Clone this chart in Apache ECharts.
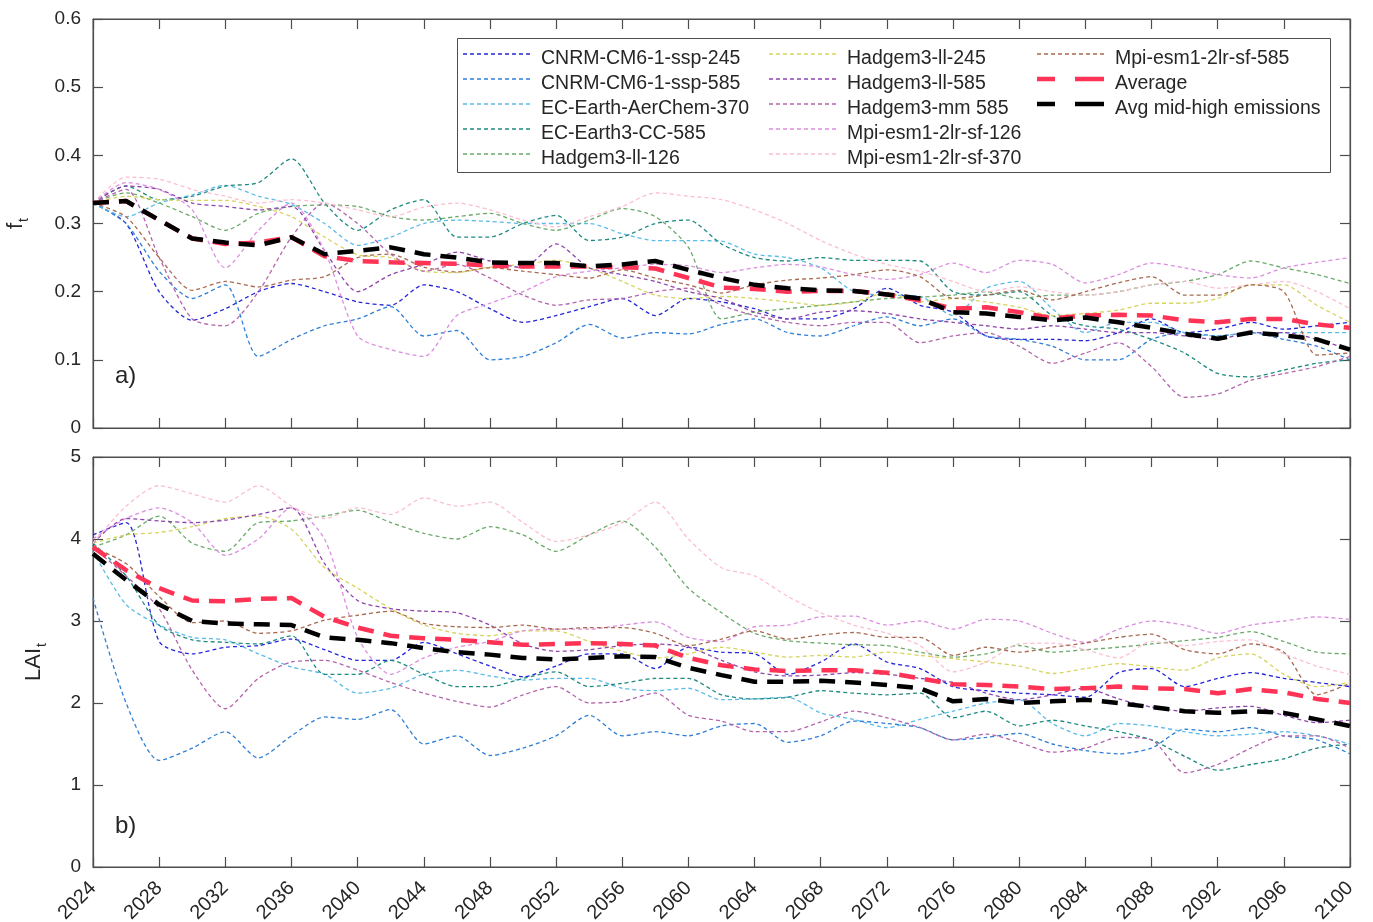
<!DOCTYPE html>
<html>
<head>
<meta charset="utf-8">
<script src="https://cdn.jsdelivr.net/npm/echarts@6/dist/echarts.min.js"></script>
<style>html,body{margin:0;padding:0;background:#fff;overflow:hidden}#c{width:1373px;height:922px}</style>
</head>
<body>
<div id="c"></div>
<script>
const years = [2024,2026,2028,2030,2032,2034,2036,2038,2040,2042,2044,2046,2048,2050,2052,2054,2056,2058,2060,2062,2064,2066,2068,2070,2072,2074,2076,2078,2080,2082,2084,2086,2088,2090,2092,2094,2096,2098,2100];
const xTicks = [2024,2028,2032,2036,2040,2044,2048,2052,2056,2060,2064,2068,2072,2076,2080,2084,2088,2092,2096,2100];
const ftTicks = [0,0.1,0.2,0.3,0.4,0.5,0.6];
const laiTicks = [0,1,2,3,4,5];

const names = ['CNRM-CM6-1-ssp-245','CNRM-CM6-1-ssp-585','EC-Earth-AerChem-370','EC-Earth3-CC-585','Hadgem3-ll-126','Hadgem3-ll-245','Hadgem3-ll-585','Hadgem3-mm 585','Mpi-esm1-2lr-sf-126','Mpi-esm1-2lr-sf-370','Mpi-esm1-2lr-sf-585','Average','Avg mid-high emissions'];
const colors = ['#2626d8','#2f7fd6','#5bbbe8','#1f8a80','#6aaa6a','#d8d460','#8e44ad','#b464ac','#dc8ee0','#fbbfd0','#a86a50','#ff3355','#000000'];

// ---- panel a) f_t ----
const ft_cnrm245 = [0.33,0.30,0.20,0.158,0.175,0.20,0.212,0.20,0.185,0.18,0.21,0.20,0.175,0.155,0.165,0.178,0.19,0.165,0.19,0.185,0.175,0.16,0.16,0.175,0.205,0.18,0.17,0.135,0.13,0.13,0.128,0.14,0.16,0.14,0.145,0.155,0.145,0.15,0.155];
const ft_cnrm585 = [0.33,0.30,0.23,0.19,0.21,0.105,0.13,0.15,0.16,0.178,0.135,0.143,0.10,0.105,0.125,0.152,0.132,0.14,0.138,0.152,0.16,0.14,0.135,0.15,0.163,0.15,0.16,0.135,0.13,0.12,0.10,0.10,0.13,0.14,0.135,0.14,0.13,0.12,0.10];
const ft_aerchem370 = [0.33,0.31,0.33,0.342,0.356,0.34,0.328,0.30,0.268,0.28,0.30,0.305,0.303,0.30,0.30,0.30,0.285,0.275,0.275,0.274,0.255,0.25,0.235,0.20,0.195,0.193,0.165,0.205,0.215,0.175,0.14,0.155,0.155,0.14,0.135,0.14,0.14,0.14,0.14];
const ft_ecearth585 = [0.33,0.355,0.335,0.34,0.355,0.36,0.395,0.33,0.29,0.32,0.335,0.28,0.28,0.30,0.312,0.275,0.28,0.30,0.305,0.27,0.25,0.245,0.25,0.246,0.246,0.245,0.20,0.195,0.20,0.165,0.15,0.145,0.13,0.11,0.08,0.075,0.085,0.095,0.10];
const ft_hll126 = [0.33,0.345,0.33,0.31,0.29,0.315,0.325,0.327,0.325,0.31,0.305,0.31,0.315,0.30,0.29,0.305,0.322,0.31,0.265,0.16,0.17,0.175,0.18,0.185,0.19,0.192,0.195,0.20,0.19,0.195,0.195,0.20,0.21,0.215,0.225,0.245,0.235,0.225,0.212];
const ft_hll245 = [0.33,0.34,0.335,0.334,0.334,0.325,0.31,0.28,0.254,0.25,0.23,0.228,0.236,0.24,0.246,0.235,0.215,0.195,0.19,0.193,0.19,0.185,0.18,0.185,0.198,0.185,0.19,0.185,0.177,0.165,0.168,0.173,0.183,0.183,0.19,0.21,0.21,0.18,0.155];
const ft_hll585 = [0.33,0.355,0.35,0.33,0.325,0.32,0.325,0.26,0.20,0.225,0.24,0.258,0.245,0.235,0.27,0.235,0.225,0.215,0.20,0.19,0.17,0.16,0.17,0.172,0.168,0.16,0.155,0.15,0.145,0.15,0.145,0.14,0.14,0.135,0.13,0.14,0.14,0.13,0.115];
const ft_hmm585 = [0.33,0.35,0.25,0.16,0.15,0.20,0.28,0.33,0.30,0.255,0.23,0.24,0.22,0.195,0.18,0.188,0.19,0.20,0.205,0.18,0.165,0.155,0.15,0.155,0.155,0.125,0.135,0.14,0.12,0.095,0.11,0.125,0.09,0.045,0.05,0.07,0.08,0.09,0.105];
const ft_mpi126 = [0.33,0.36,0.35,0.32,0.235,0.29,0.33,0.26,0.135,0.115,0.105,0.165,0.183,0.20,0.222,0.23,0.235,0.24,0.238,0.228,0.235,0.24,0.236,0.225,0.218,0.225,0.242,0.228,0.246,0.24,0.213,0.225,0.242,0.235,0.225,0.22,0.235,0.243,0.25];
const ft_mpi370 = [0.33,0.368,0.365,0.35,0.34,0.33,0.335,0.33,0.32,0.31,0.324,0.33,0.32,0.305,0.295,0.31,0.325,0.345,0.34,0.335,0.32,0.30,0.275,0.255,0.24,0.23,0.215,0.20,0.207,0.20,0.195,0.20,0.21,0.215,0.205,0.21,0.215,0.20,0.175];
const ft_mpi585 = [0.33,0.31,0.25,0.202,0.215,0.207,0.217,0.222,0.25,0.255,0.236,0.229,0.235,0.23,0.225,0.22,0.232,0.22,0.21,0.198,0.21,0.217,0.22,0.225,0.232,0.222,0.19,0.195,0.202,0.188,0.20,0.213,0.222,0.195,0.195,0.21,0.20,0.107,0.11];
const ft_avg = [0.33,0.333,0.305,0.278,0.27,0.272,0.28,0.252,0.245,0.243,0.242,0.241,0.238,0.237,0.237,0.237,0.236,0.234,0.22,0.206,0.204,0.20,0.201,0.201,0.196,0.187,0.175,0.177,0.17,0.161,0.165,0.166,0.165,0.158,0.155,0.16,0.16,0.152,0.147];
const ft_avgHigh = [0.33,0.333,0.305,0.278,0.272,0.268,0.28,0.255,0.26,0.265,0.255,0.25,0.243,0.242,0.242,0.237,0.24,0.245,0.232,0.22,0.21,0.205,0.202,0.201,0.196,0.19,0.17,0.168,0.163,0.158,0.162,0.155,0.147,0.138,0.131,0.14,0.136,0.13,0.115];

// ---- panel b) LAI_t ----
const lai_cnrm245 = [4.05,4.2,2.75,2.6,2.68,2.7,2.78,2.65,2.52,2.52,2.74,2.6,2.45,2.32,2.45,2.6,2.6,2.42,2.68,2.62,2.6,2.35,2.5,2.72,2.5,2.42,2.2,2.15,2.12,2.1,2.07,2.37,2.42,2.2,2.3,2.37,2.3,2.25,2.2];
const lai_cnrm585 = [3.28,2.0,1.3,1.45,1.65,1.33,1.6,1.83,1.8,1.92,1.5,1.6,1.36,1.45,1.6,1.85,1.6,1.65,1.6,1.72,1.75,1.52,1.6,1.78,1.75,1.7,1.55,1.58,1.63,1.5,1.42,1.38,1.45,1.68,1.65,1.7,1.6,1.55,1.38];
const lai_aerchem370 = [3.85,3.2,2.95,2.8,2.77,2.6,2.44,2.35,2.12,2.18,2.35,2.4,2.33,2.28,2.3,2.3,2.18,2.15,2.18,2.04,2.05,2.07,1.88,1.8,1.7,1.8,1.9,2.0,2.04,1.75,1.6,1.75,1.72,1.65,1.6,1.62,1.65,1.6,1.5];
const lai_ecearth585 = [3.95,3.55,2.95,2.77,2.74,2.72,2.82,2.35,2.35,2.52,2.35,2.2,2.2,2.3,2.38,2.2,2.24,2.3,2.3,2.1,2.05,2.07,2.15,2.12,2.1,2.12,1.82,1.9,1.72,1.79,1.72,1.65,1.55,1.35,1.18,1.25,1.32,1.45,1.5];
const lai_hll126 = [3.9,4.05,4.28,3.95,3.85,4.2,4.22,4.28,4.35,4.2,4.07,4.0,4.15,4.05,3.85,4.05,4.22,3.9,3.4,3.1,2.85,2.76,2.73,2.71,2.7,2.62,2.56,2.6,2.7,2.62,2.65,2.68,2.72,2.76,2.8,2.87,2.75,2.62,2.6];
const lai_hll245 = [3.95,4.05,4.08,4.15,4.25,4.28,4.12,3.65,3.4,3.15,2.95,2.85,2.82,2.88,2.88,2.75,2.63,2.55,2.6,2.68,2.62,2.56,2.58,2.56,2.62,2.58,2.54,2.5,2.45,2.36,2.42,2.48,2.44,2.4,2.55,2.6,2.35,2.2,2.25];
const lai_hll585 = [3.95,4.25,4.22,4.2,4.23,4.3,4.38,3.7,3.25,3.15,3.12,3.1,2.95,2.72,2.63,2.65,2.7,2.72,2.68,2.52,2.38,2.33,2.34,2.37,2.35,2.3,2.25,2.12,2.04,2.1,2.18,2.05,1.95,1.9,1.94,1.96,1.85,1.76,1.79];
const lai_hmm585 = [3.9,3.55,3.15,2.4,1.93,2.3,2.5,2.52,2.4,2.25,2.12,2.02,1.95,2.1,2.2,2.0,2.02,2.12,1.85,1.78,1.65,1.65,1.77,1.9,1.82,1.7,1.55,1.62,1.52,1.4,1.45,1.58,1.55,1.15,1.25,1.45,1.6,1.6,1.45];
const lai_mpi126 = [4.0,4.25,4.38,4.2,3.8,4.0,4.38,4.0,2.8,2.35,2.55,2.68,2.75,2.88,2.9,2.9,2.95,2.99,2.8,2.75,2.93,2.95,3.05,3.06,2.95,3.0,2.9,3.02,3.0,2.85,2.74,2.9,3.0,2.95,2.85,2.95,3.0,3.05,3.02];
const lai_mpi370 = [3.95,4.4,4.65,4.55,4.45,4.65,4.4,4.25,4.38,4.3,4.5,4.4,4.45,4.2,3.97,4.05,4.2,4.45,4.0,3.65,3.55,3.3,3.1,2.95,2.85,2.7,2.38,2.5,2.72,2.73,2.65,2.55,2.75,2.7,2.75,2.77,2.6,2.45,2.35];
const lai_mpi585 = [3.9,3.7,3.3,2.98,3.0,2.85,2.88,3.01,3.07,3.12,2.97,2.93,2.92,2.95,2.9,2.92,2.92,2.85,2.7,2.78,2.88,2.78,2.83,2.86,2.8,2.8,2.58,2.68,2.62,2.68,2.73,2.8,2.84,2.65,2.6,2.72,2.62,2.1,2.24];
const lai_avg = [3.9,3.62,3.4,3.25,3.24,3.27,3.28,3.05,2.92,2.82,2.79,2.77,2.74,2.71,2.72,2.73,2.72,2.7,2.55,2.46,2.41,2.39,2.4,2.4,2.37,2.3,2.23,2.22,2.2,2.17,2.18,2.2,2.18,2.17,2.12,2.17,2.13,2.05,2.0];
const lai_avgHigh = [3.82,3.5,3.2,3.0,2.97,2.96,2.95,2.8,2.77,2.73,2.67,2.62,2.59,2.55,2.53,2.55,2.57,2.56,2.43,2.34,2.26,2.26,2.27,2.25,2.22,2.18,2.02,2.05,2.0,2.02,2.04,2.0,1.95,1.9,1.88,1.9,1.88,1.8,1.72];

const ftSeries = [ft_cnrm245,ft_cnrm585,ft_aerchem370,ft_ecearth585,ft_hll126,ft_hll245,ft_hll585,ft_hmm585,ft_mpi126,ft_mpi370,ft_mpi585,ft_avg,ft_avgHigh];
const laiSeries = [lai_cnrm245,lai_cnrm585,lai_aerchem370,lai_ecearth585,lai_hll126,lai_hll245,lai_hll585,lai_hmm585,lai_mpi126,lai_mpi370,lai_mpi585,lai_avg,lai_avgHigh];

const FONT = '"Liberation Sans", Arial, Helvetica, sans-serif';
const TXT = '#262626';
const AX = '#4d4d4d';

function pairs(vals){ return years.map((y,i)=>[y, vals[i]]); }

function mkSeries(vals, i, panel){
  const isAvg = i >= 11;
  return {
    name: names[i], type: 'line',
    xAxisIndex: panel*2, yAxisIndex: panel*2,
    data: pairs(vals),
    showSymbol: false, symbol: 'none',
    smooth: isAvg ? false : 0.25,
    z: isAvg ? 3 + (i-10) : 2,
    lineStyle: isAvg ? {color: colors[i], width: 4.5, type: [16, 10]} : {color: colors[i], width: 1.3, type: [4, 3]},
    itemStyle: {color: colors[i]},
    emphasis: {disabled: true},
    animation: false
  };
}

const series = [];
ftSeries.forEach((v,i)=>series.push(mkSeries(v,i,0)));
laiSeries.forEach((v,i)=>series.push(mkSeries(v,i,1)));

const grids = [
  {left: 93, top: 19, width: 1257, height: 409, show: true, borderColor: AX, borderWidth: 1, containLabel: false, outerBoundsMode: 'none'},
  {left: 93, top: 457, width: 1257, height: 410, show: true, borderColor: AX, borderWidth: 1, containLabel: false, outerBoundsMode: 'none'}
];

function xAx(grid, pos, labels){
  return {
    type: 'value', gridIndex: grid, position: pos, min: xTicks[0], max: xTicks[xTicks.length-1], interval: 4,
    axisLine: {show: true, onZero: false, lineStyle: {color: AX, width: 1.2}},
    axisTick: {show: true, inside: true, length: 10, lineStyle: {color: AX, width: 1.2}},
    axisLabel: {show: labels, rotate: 45, margin: 18, fontSize: 20, fontFamily: FONT, color: TXT, formatter: v => String(v)},
    splitLine: {show: false}
  };
}
function yAx(grid, pos, ticks, interval, labels, name, nameGap, fmt){
  const o = {
    type: 'value', gridIndex: grid, position: pos, min: ticks[0], max: ticks[ticks.length-1], interval: interval,
    axisLine: {show: true, onZero: false, lineStyle: {color: AX, width: 1.2}},
    axisTick: {show: true, inside: true, length: 10, lineStyle: {color: AX, width: 1.2}},
    axisLabel: {show: labels, margin: 12, fontSize: 19, fontFamily: FONT, color: TXT, formatter: fmt},
    splitLine: {show: false}
  };
  if (name) {
    o.name = name; o.nameLocation = 'middle'; o.nameGap = nameGap; o.nameRotate = 90;
    o.nameTextStyle = {fontFamily: FONT, color: TXT, rich: {
      m: {fontSize: 22, fontFamily: FONT, color: TXT, lineHeight: 30, verticalAlign: 'middle'},
      s: {fontSize: 14, fontFamily: FONT, color: TXT, lineHeight: 30, verticalAlign: 'bottom', padding: [0,0,0,1]}
    }};
  }
  return o;
}

const legendBase = {
  orient: 'vertical', top: 44, itemWidth: 67, itemHeight: 20, itemGap: 5,
  icon: 'none',
  textStyle: {fontSize: 19.5, fontFamily: FONT, color: TXT, lineHeight: 20, padding: [0,0,0,1]},
  inactiveColor: '#ccc', z: 10
};

// legend line samples (drawn as graphics at the legend icon slots)
const legendCols = [463, 769, 1037];
const legendRowY0 = 54, legendRowStep = 25;
const legendGraphics = names.map((n, i) => {
  const col = Math.floor(i / 5), row = i % 5;
  const isAvg = i >= 11;
  const x = legendCols[col], y = legendRowY0 + row * legendRowStep;
  return {
    type: 'line', z: 11,
    shape: {x1: x, y1: y, x2: x + 67, y2: y},
    style: isAvg ? {stroke: colors[i], lineWidth: 4.5, lineDash: [18, 20, 30, 100]} : {stroke: colors[i], lineWidth: 1.5, lineDash: [4, 3]}
  };
});

const option = {
  backgroundColor: '#fff',
  animation: false,
  grid: grids,
  xAxis: [xAx(0,'bottom',false), xAx(0,'top',false), xAx(1,'bottom',true), xAx(1,'top',false)],
  yAxis: [
    yAx(0,'left',ftTicks,0.1,true,'{m|f}{s|t}',62, v => (Math.round(v*10)/10).toFixed(v===0?0:1)),
    yAx(0,'right',ftTicks,0.1,false),
    yAx(1,'left',laiTicks,1,true,'{m|LAI}{s|t}',44, v => String(v)),
    yAx(1,'right',laiTicks,1,false)
  ],
  legend: [
    Object.assign({}, legendBase, {left: 463, data: names.slice(0,5)}),
    Object.assign({}, legendBase, {left: 769, data: names.slice(5,10)}),
    Object.assign({}, legendBase, {left: 1037, data: names.slice(10,13)})
  ],
  graphic: [
    {type: 'rect', z: 5, shape: {x: 457.5, y: 38.5, width: 873, height: 134}, style: {fill: '#fff', stroke: AX, lineWidth: 1}},
    {type: 'text', z: 6, left: 115, top: 364, style: {text: 'a)', fontSize: 24, fontFamily: FONT, fill: TXT}},
    {type: 'text', z: 6, left: 115, top: 814, style: {text: 'b)', fontSize: 24, fontFamily: FONT, fill: TXT}}
  ].concat(legendGraphics),
  series: series
};

const chart = echarts.init(document.getElementById('c'), null, {renderer: 'canvas'});
chart.setOption(option);
</script>
</body>
</html>
